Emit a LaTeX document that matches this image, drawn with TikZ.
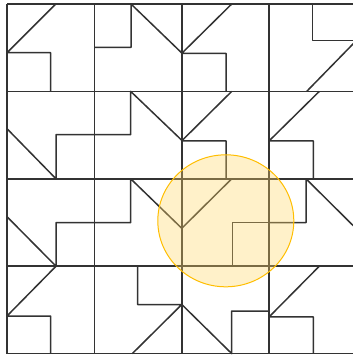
\documentclass[tikz,border=0pt]{standalone}
\begin{document}
\begin{tikzpicture}[x=1pt,y=-1pt,
  tile/.style={draw=black!80,line width=1.5pt,line join=round},
  grid/.style={draw=black!80,line width=1.5pt},
  spot/.style={draw={rgb,255:red,255;green,190;blue,0},line width=1pt,
    fill={rgb,255:red,255;green,214;blue,100},fill opacity=0.35}]
\useasboundingbox (0,0) rectangle (353,357);
\clip (0,0) rectangle (353,357);
% grid
\foreach \x in {7,94.4,181.8,269.2,356.6}{\draw[grid] (\x,4) -- (\x,353.6);}
\foreach \y in {4,91.4,178.8,266.2,353.6}{\draw[grid] (7,\y) -- (356.6,\y);}
% row 0
\draw[tile] (55.7,4) -- (7,52.7) -- (50.7,52.7) -- (50.7,91.4);
\draw[tile] (94.4,47.3) -- (131,47.3) -- (131,4) -- (181.8,53);
\draw[tile] (231.7,4) -- (181.8,53.3) -- (226,53.3) -- (226,91.4);
\draw[tile] (312.7,4) -- (312.7,40.3) -- (356.6,40.3);
\draw[tile] (306.7,91.4) -- (356.6,40.3);
% row 1
\draw[tile] (7,128.7) -- (56,178.8) -- (56,134.7) -- (94.4,134.7);
\draw[tile] (94.4,134.7) -- (130.7,134.7) -- (130.7,91.4) -- (181.8,140.3);
\draw[tile] (231.7,91.4) -- (181.8,140.8) -- (226,140.8) -- (226,178.8);
\draw[tile] (319.3,91.4) -- (269.2,140.8) -- (313.3,140.8) -- (313.3,178.8);
% row 2
\draw[tile] (7,216.7) -- (56,266.2) -- (56,222.7) -- (94.4,222.7);
\draw[tile] (94.4,222.7) -- (130.7,222.7) -- (130.7,178.8) -- (181.8,228.3);
\draw[tile] (231.7,178.8) -- (181.8,228.3);
\draw[tile] (232.3,266.2) -- (232.3,222.7) -- (269.2,222.7);
\draw[tile] (269.2,222.7) -- (306,222.7) -- (306,178.8) -- (356.6,229);
% row 3
\draw[tile] (56,266.2) -- (7,316) -- (50.7,316) -- (50.7,353.6);
\draw[tile] (137.7,266.2) -- (137.7,304.5) -- (181.8,304.5) -- (132.3,353.6);
\draw[tile] (181.8,304.5) -- (231.7,353.6) -- (231.7,311) -- (269.2,311);
\draw[tile] (319.3,266.2) -- (269.2,316.8) -- (313.3,316.8) -- (313.3,353.6);
% highlight
\path[spot] (225.8,220.8) ellipse [x radius=68, y radius=66];
\end{tikzpicture}
\end{document}
